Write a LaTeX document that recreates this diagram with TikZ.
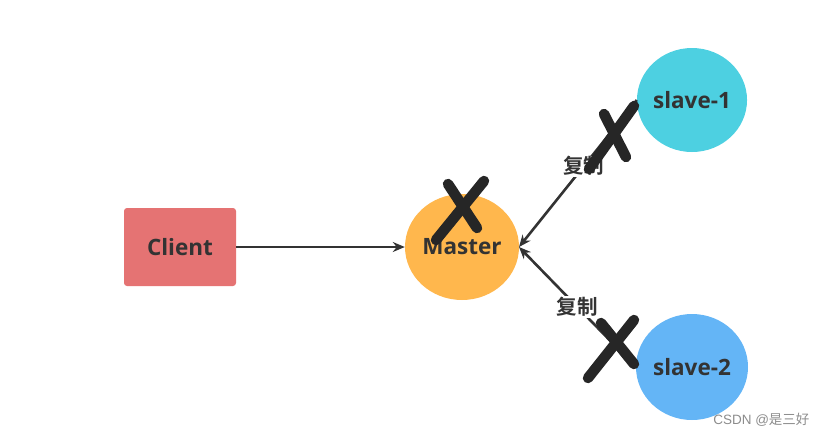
\documentclass[tikz,border=0pt]{standalone}
\usepackage{fontspec}
\setmainfont{Open Sans}
\newfontfamily\cjk{Noto Sans CJK SC}
\newfontfamily\cjkbold{Noto Sans CJK SC Bold}
\newfontfamily\wmfont{Liberation Sans}
\usetikzlibrary{arrows.meta,shapes.geometric}
\definecolor{clientc}{HTML}{E57373}
\definecolor{masterc}{HTML}{FFB74D}
\definecolor{slaveone}{HTML}{4DD0E1}
\definecolor{slavetwo}{HTML}{64B5F6}
\definecolor{ink}{HTML}{333333}
\definecolor{xmark}{HTML}{262626}
\begin{document}
\begin{tikzpicture}[x=1pt,y=-1pt,
  lbl/.style={font=\bfseries\fontsize{22.5}{26}\selectfont, text=ink},
  blob/.style={ellipse, draw=none, lbl, inner sep=0pt},
  conn/.style={draw=ink, line width=2.6pt, -{Stealth[length=12pt,width=10pt]}},
  rep/.style={font=\cjkbold\fontsize{20.5}{24}\selectfont, text=ink, fill=white, inner sep=1pt},
  xstroke/.style={draw=xmark, line width=10.5pt, line cap=round}]
\useasboundingbox (0,0) rectangle (827,437);
\node[lbl, fill=clientc, rounded corners=3pt, minimum width=112pt, minimum height=78pt] (client) at (180,247) {Client};
\node[blob, fill=masterc, minimum width=114pt, minimum height=106pt] (master) at (462,247) {Master};
\node[blob, fill=slaveone, minimum width=110pt, minimum height=104pt] (s1) at (692,100) {slave-1};
\node[blob, fill=slavetwo, minimum width=112pt, minimum height=106pt] (s2) at (692,367) {slave-2};
\coordinate (mr) at (519,247);
\draw[conn] (client.east) -- (master.west);
\draw[conn] (s1.west) -- node[rep, pos=0.45] (r1) {复制} (mr);
\draw[conn] (s2.west) -- node[rep, pos=0.5] (r2) {复制} (mr);
% X marks
\draw[xstroke] (448,184) -- (477,228);
\draw[xstroke] (484,181) -- (436,240);
\draw[xstroke] (604,114) -- (626,157);
\draw[xstroke] (634,106) -- (589,169);
\draw[xstroke] (601,323) -- (634,364);
\draw[xstroke] (634,320) -- (588,378);
\node[font=\wmfont\fontsize{13.5}{15}\selectfont, text=black!45, anchor=east] (wm) at (813,420) {CSDN @{\cjk 是三好}};
\end{tikzpicture}
\end{document}
